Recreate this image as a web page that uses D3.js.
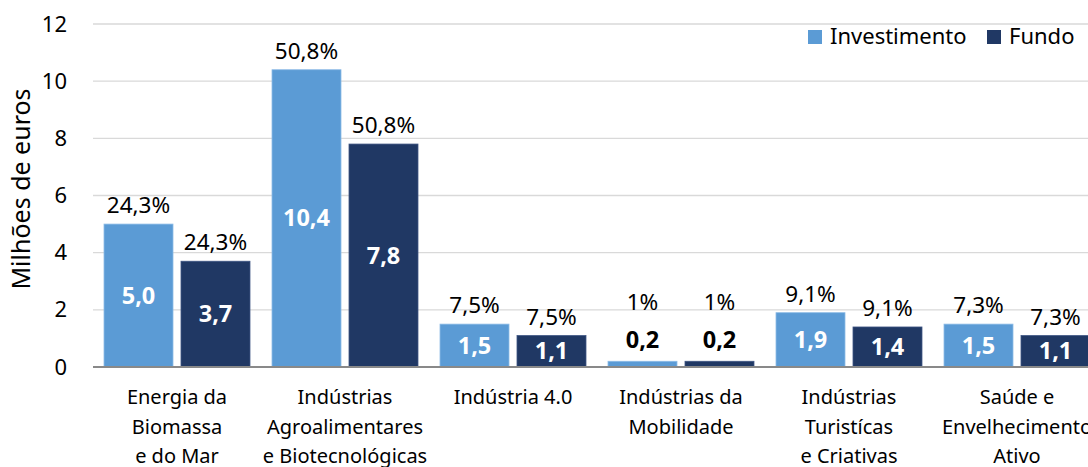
<!doctype html>
<meta charset="utf-8">
<style>
body { margin: 0; background: #fff; }
text { font-family: "Noto Sans", "Open Sans", sans-serif; fill: #000; }
</style>
<body>
<div id="chart"></div>
<script src="https://d3js.org/d3.v7.min.js"></script>
<script>
// chart values
var categories = [
  ["Energia da", "Biomassa", "e do Mar"],
  ["Indústrias", "Agroalimentares", "e Biotecnológicas"],
  ["Indústria 4.0"],
  ["Indústrias da", "Mobilidade"],
  ["Indústrias", "Turistícas", "e Criativas"],
  ["Saúde e", "Envelhecimento", "Ativo"]
];
var seriesNames = ["Investimento", "Fundo"];
var investimento = [5.0, 10.4, 1.5, 0.2, 1.9, 1.5];
var fundo = [3.7, 7.8, 1.1, 0.2, 1.4, 1.1];
var investimentoPct = ["24,3%", "50,8%", "7,5%", "1%", "9,1%", "7,3%"];
var fundoPct = ["24,3%", "50,8%", "7,5%", "1%", "9,1%", "7,3%"];
var yTicks = [0, 2, 4, 6, 8, 10, 12];
var colors = ["#5b9bd5", "#203864"];

var W = 1088, H = 467;
var plotLeft = 93, plotTop = 24, plotBottom = 367;
var bandW = 168;

var svg = d3.select("#chart").append("svg").attr("width", W).attr("height", H);

var x0 = d3.scaleBand().domain(d3.range(categories.length))
  .range([plotLeft, plotLeft + bandW * categories.length]).padding(0);
var x1 = d3.scaleBand().domain(seriesNames).range([0, bandW])
  .paddingInner(8 / 77).paddingOuter(0.143);
var y = d3.scaleLinear().domain([0, 12]).range([plotBottom, plotTop]);

// gridlines
svg.append("g").selectAll("line").data(yTicks.filter(function(d) { return d > 0; }))
  .enter().append("line")
  .attr("x1", plotLeft).attr("x2", W)
  .attr("y1", function(d) { return y(d); }).attr("y2", function(d) { return y(d); })
  .attr("stroke", "#d9d9d9").attr("stroke-width", 1.3);

// y axis labels
var yAxis = svg.append("g").attr("transform", "translate(" + (plotLeft - 26) + ",0)")
  .call(d3.axisLeft(y).tickValues(yTicks).tickSize(0).tickPadding(0));
yAxis.select(".domain").remove();
yAxis.selectAll("text").style("font-size", "22px").style("font-family", "'Noto Sans', sans-serif").attr("fill", "#000");

svg.append("text")
  .attr("transform", "translate(23,189) rotate(-90)")
  .attr("text-anchor", "middle").attr("dominant-baseline", "middle")
  .style("font-size", "25px").text("Milhões de euros");

// bars
var rows = categories.map(function(c, i) {
  return [
    { key: "Investimento", i: i, v: investimento[i], pct: investimentoPct[i], color: colors[0] },
    { key: "Fundo", i: i, v: fundo[i], pct: fundoPct[i], color: colors[1] }
  ];
});
var flat = d3.merge(rows);

svg.append("g").selectAll("rect").data(flat).enter().append("rect")
  .attr("x", function(d) { return x0(d.i) + x1(d.key); })
  .attr("y", function(d) { return y(d.v); })
  .attr("width", x1.bandwidth())
  .attr("height", function(d) { return y(0) - y(d.v); })
  .attr("fill", function(d) { return d.color; })
  .attr("stroke", function(d) { return d.key === "Investimento" ? "#8cbbe6" : "#3e5583"; })
  .attr("stroke-width", 0.8);

// baseline
svg.append("line").attr("x1", plotLeft).attr("x2", W)
  .attr("y1", y(0)).attr("y2", y(0))
  .attr("stroke", "#898989").attr("stroke-width", 2.2);

var fmt = function(v) { return v.toFixed(1).replace(".", ","); };
var fits = function(d) { return y(0) - y(d.v) > 26; };

// value labels
svg.append("g").selectAll("text").data(flat).enter().append("text")
  .attr("x", function(d) { return x0(d.i) + x1(d.key) + x1.bandwidth() / 2; })
  .attr("y", function(d) {
    return fits(d) ? (y(d.v) + y(0)) / 2 + 8 : y(d.v) - 13;
  })
  .attr("text-anchor", "middle")
  .style("font-size", "23.5px").style("font-weight", "bold")
  .style("fill", function(d) { return fits(d) ? "#fff" : "#000"; })
  .text(function(d) { return fmt(d.v); });

// percentage labels
svg.append("g").selectAll("text").data(flat).enter().append("text")
  .attr("x", function(d) { return x0(d.i) + x1(d.key) + x1.bandwidth() / 2; })
  .attr("y", function(d) {
    return fits(d) ? y(d.v) - 11 : y(d.v) - 13 - 38;
  })
  .attr("text-anchor", "middle")
  .style("font-size", "22.5px")
  .text(function(d) { return d.pct; });

// category labels
var cat = svg.append("g").selectAll("text").data(categories).enter().append("text")
  .attr("x", function(d, i) { return x0(i) + bandW / 2; })
  .attr("y", 404)
  .attr("text-anchor", "middle")
  .style("font-size", "20px");
cat.selectAll("tspan").data(function(d) { return d; }).enter().append("tspan")
  .attr("x", function() { return d3.select(this.parentNode).attr("x"); })
  .attr("dy", function(d, j) { return j === 0 ? 0 : 29.5; })
  .text(function(d) { return d; });

// legend
var legendX = [808, 987];
var lg = svg.append("g").selectAll("g").data(seriesNames).enter().append("g")
  .attr("transform", function(d, i) { return "translate(" + legendX[i] + ",30)"; });
lg.append("rect").attr("width", 14).attr("height", 14)
  .attr("fill", function(d, i) { return colors[i]; });
lg.append("text").attr("x", 22).attr("y", 14)
  .style("font-size", "22px").text(function(d) { return d; });
</script>
</body>
